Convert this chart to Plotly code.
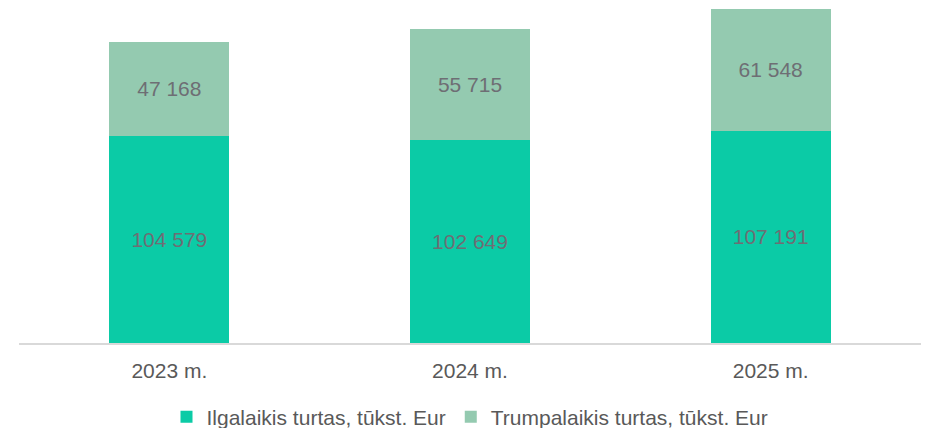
import plotly.graph_objects as go

categories = ["2023 m.", "2024 m.", "2025 m."]
ilgalaikis = [104579, 102649, 107191]
trumpalaikis = [47168, 55715, 61548]
series_names = ["Ilgalaikis turtas, tūkst. Eur", "Trumpalaikis turtas, tūkst. Eur"]

def fmt(v):
    return f"{v:,}".replace(",", " ")

FONT = "Arial, Liberation Sans, sans-serif"
LABEL_COLOR = "#6E6E74"

fig = go.Figure()
fig.add_trace(go.Bar(
    x=categories, y=ilgalaikis, name=series_names[0],
    marker=dict(color="#0BCBA6", line=dict(width=0)),
    text=[fmt(v) for v in ilgalaikis], textposition="inside",
    insidetextanchor="middle", textangle=0,
    textfont=dict(family=FONT, size=21, color=LABEL_COLOR),
    width=0.4,
))
fig.add_trace(go.Bar(
    x=categories, y=trumpalaikis, name=series_names[1],
    marker=dict(color="#94CAB0", line=dict(width=0)),
    text=[fmt(v) for v in trumpalaikis], textposition="inside",
    insidetextanchor="middle", textangle=0,
    textfont=dict(family=FONT, size=21, color=LABEL_COLOR),
    width=0.4,
))

fig.update_layout(
    barmode="stack",
    width=925, height=428,
    margin=dict(l=19, r=4, t=6, b=85),
    paper_bgcolor="white", plot_bgcolor="white",
    font=dict(family=FONT, color="#595959"),
    showlegend=True,
    legend=dict(orientation="h", x=0.5, xanchor="center", xref="paper",
                yref="container", y=(428 - 417) / 428, yanchor="middle",
                font=dict(size=21, color="#595959"), traceorder="normal"),
    uniformtext=dict(mode=False),
)
fig.update_xaxes(showline=True, linecolor="#D9D9D9", linewidth=2, ticks="",
                 tickfont=dict(size=21, color="#595959"), showgrid=False,
                 ticklabelstandoff=8)
fig.update_yaxes(range=[0, 170000], visible=False, showgrid=False)

fig.write_html("out.html", config={"displayModeBar": False},
               post_script="document.body.style.margin='0px';")
